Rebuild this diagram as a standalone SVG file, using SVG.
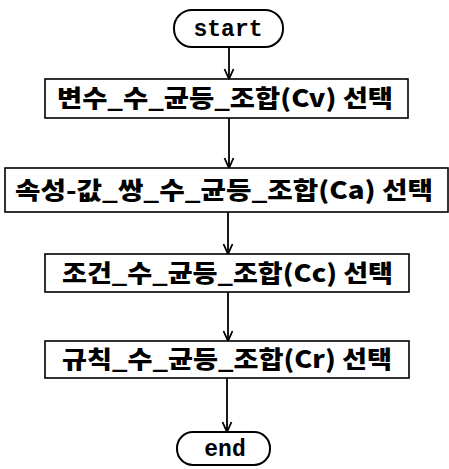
<svg xmlns="http://www.w3.org/2000/svg" width="449" height="469" viewBox="0 0 449 469">
<defs>
<marker id="arr" markerWidth="12" markerHeight="12" refX="11" refY="6" orient="auto" markerUnits="userSpaceOnUse" viewBox="0 0 12 12">
<path d="M1,1.5 L11,6 L1,10.5" fill="none" stroke="#000" stroke-width="1.8"/>
</marker>
</defs>
<style>
.box{fill:#fff;stroke:#000;stroke-width:1.6}
.term{fill:#fff;stroke:#000;stroke-width:2}
.kt{font-family:"Noto Sans CJK KR","Noto Sans",sans-serif;font-weight:900;font-size:24px;fill:#000}
.tt{font-family:"Liberation Mono","Courier New",monospace;font-weight:bold;font-size:23px;fill:#000;text-anchor:middle}
.ln{stroke:#000;stroke-width:1.8;fill:none}
</style>
<rect width="449" height="469" fill="#fff"/>
<g id="connectors">
<line class="ln" x1="229" y1="47" x2="229" y2="79" marker-end="url(#arr)"/>
<line class="ln" x1="229" y1="118" x2="229" y2="168" marker-end="url(#arr)"/>
<line class="ln" x1="228" y1="212" x2="228" y2="254" marker-end="url(#arr)"/>
<line class="ln" x1="228" y1="292" x2="228" y2="341" marker-end="url(#arr)"/>
<line class="ln" x1="227" y1="378" x2="227" y2="432" marker-end="url(#arr)"/>
</g>
<g id="start">
<rect class="term" x="174" y="10" width="109" height="37" rx="18" ry="18"/>
<text class="tt" x="228" y="36">start</text>
</g>
<g id="n1">
<rect class="box" x="45" y="79" width="363" height="39"/>
<text class="kt" x="57" y="107" textLength="336" lengthAdjust="spacingAndGlyphs">변수_수_균등_조합(Cv) 선택</text>
</g>
<g id="n2">
<rect class="box" x="5" y="168" width="443" height="44"/>
<text class="kt" x="15" y="199" textLength="418" lengthAdjust="spacingAndGlyphs">속성-값_쌍_수_균등_조합(Ca) 선택</text>
</g>
<g id="n3">
<rect class="box" x="45" y="254" width="364" height="38"/>
<text class="kt" x="62" y="282" textLength="331" lengthAdjust="spacingAndGlyphs">조건_수_균등_조합(Cc) 선택</text>
</g>
<g id="n4">
<rect class="box" x="45" y="341" width="364" height="37"/>
<text class="kt" x="62" y="368" textLength="330" lengthAdjust="spacingAndGlyphs">규칙_수_균등_조합(Cr) 선택</text>
</g>
<g id="end">
<rect class="term" x="177" y="432" width="93" height="33" rx="16" ry="16"/>
<text class="tt" x="225" y="456">end</text>
</g>
</svg>
